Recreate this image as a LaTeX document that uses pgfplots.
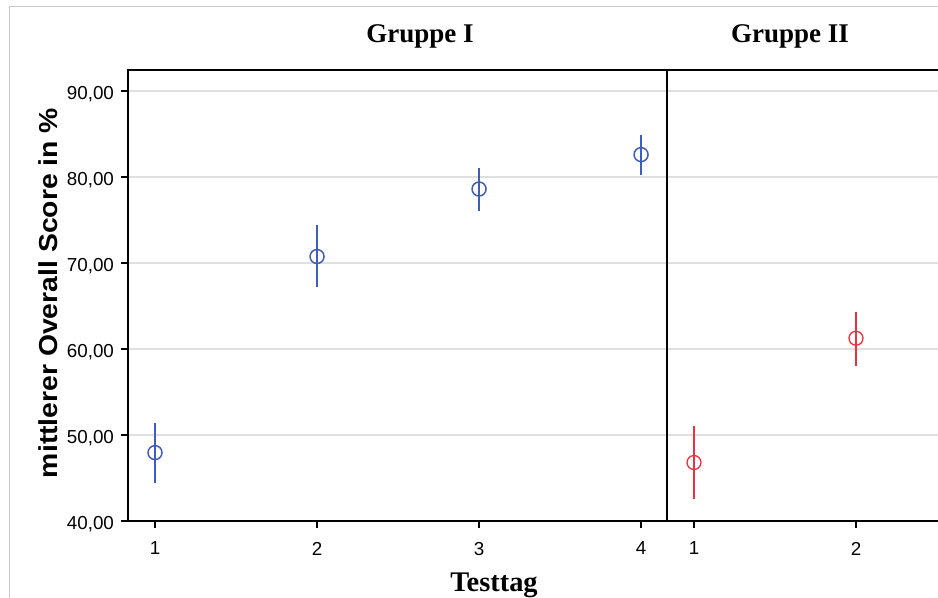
\documentclass[border=0pt]{standalone}
\usepackage{pgfplots}
\pgfplotsset{compat=1.18}
\usepackage{fontspec}
\setmainfont{Liberation Sans}
\newfontfamily\serifbold{Liberation Serif}
\definecolor{spssblue}{HTML}{3F5EBB}
\definecolor{spssred}{HTML}{F0303C}
\definecolor{gridgrey}{HTML}{E0E0E0}

\pgfplotstableread{
x y ep em
1 47.95 3.40 3.55
2 70.75 3.65 3.55
3 78.60 2.50 2.60
4 82.60 2.25 2.40
}\gone
\pgfplotstableread{
x y ep em
1 46.80 4.20 4.20
2 61.25 3.05 3.25
}\gtwo

\pgfplotsset{
  spss/.style={
    scale only axis,
    height=225.5pt,
    ymin=40, ymax=92.44,
    ytick={40,50,60,70,80,90},
    ymajorgrids,
    major grid style={gridgrey, line width=0.9pt},
    axis line style={black, line width=1pt},
    tick style={black, line width=1pt},
    major tick length=3.5pt,
    tick align=outside,
    xtick pos=bottom, ytick pos=left,
    xtick={1,2,3,4},
    tick label style={font=\fontsize{9.4}{11}\selectfont},
    /pgf/number format/assume math mode=true,
    yticklabel style={yshift=-1.5pt, /pgf/number format/.cd, fixed, fixed zerofill, precision=2, use comma},
    xticklabel style={yshift=-3.5pt},
    clip=false,
  },
}

\begin{document}
\begin{tikzpicture}[x=1pt,y=1pt]
\path[use as bounding box, clip] (0,0) rectangle (469,299);
\draw[color={rgb,255:red,200;green,200;blue,200}, line width=0.6pt] (4.75,-5) -- (4.75,295.75) -- (480,295.75);

\begin{axis}[spss, at={(64pt,38.5pt)}, anchor=south west, width=269.5pt,
  xmin=0.8333, xmax=4.16]
\addplot[only marks, mark=o, mark size=3.5pt, color=spssblue,
  mark options={line width=0.75pt},
  error bars/.cd, y dir=both, y explicit, error mark=none,
  error bar style={line width=1.4pt, color=spssblue}]
  table[x=x, y=y, y error plus=ep, y error minus=em] {\gone};
\end{axis}

\begin{axis}[spss, at={(333.5pt,38.5pt)}, anchor=south west, width=166.5pt,
  xmin=0.8333, xmax=2.889, xtick={1,2},
  yticklabels={}, y tick style={draw=none}]
\addplot[only marks, mark=o, mark size=3.5pt, color=spssred,
  mark options={line width=0.65pt},
  error bars/.cd, y dir=both, y explicit, error mark=none,
  error bar style={line width=0.8pt, color=spssred}]
  table[x=x, y=y, y error plus=ep, y error minus=em] {\gtwo};
\end{axis}

\node[rotate=90, font=\bfseries\fontsize{13}{15}\selectfont] at (24,152.5) {\scalebox{1.09}[1]{mittlerer Overall Score in \%}};
\node[font=\serifbold\bfseries\fontsize{13.5}{15}\selectfont] at (210,281) {Gruppe I};
\node[font=\serifbold\bfseries\fontsize{13.5}{15}\selectfont] at (395,281) {Gruppe II};
\node[font=\serifbold\bfseries\fontsize{14.2}{16}\selectfont] at (247,6.5) {Testtag};
\end{tikzpicture}
\end{document}
